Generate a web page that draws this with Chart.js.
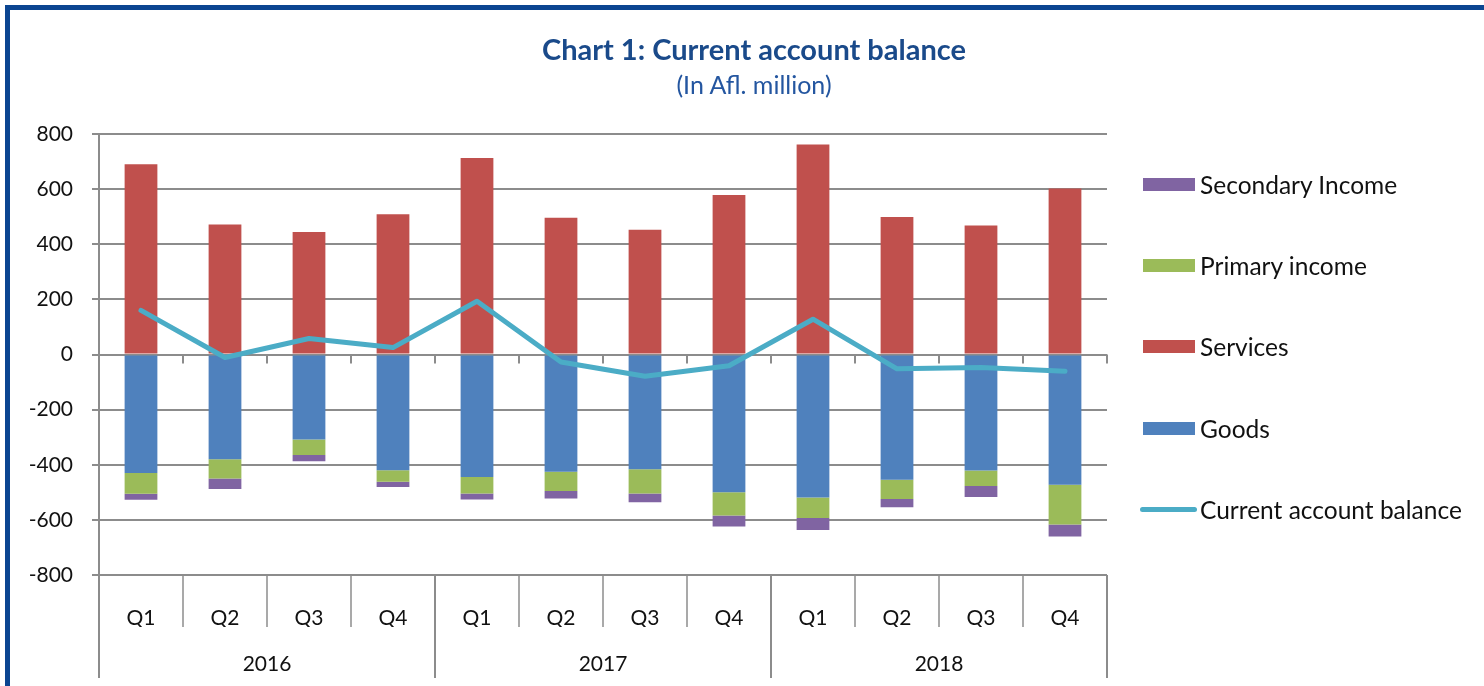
<!DOCTYPE html>
<html>
<head>
<meta charset="utf-8">
<script src="https://cdn.jsdelivr.net/npm/chart.js@4"></script>
<style>
  html, body { margin:0; padding:0; background:#fff; }
  body { width:1484px; height:686px; position:relative; overflow:hidden; font-family: Lato, "Open Sans", sans-serif; }
  #frame { position:absolute; left:5px; top:5px; width:1600px; height:800px; border-top:5px solid #0b4591; border-left:5px solid #0b4591; box-sizing:border-box; }
  #wrap { position:absolute; left:0; top:0; width:1484px; height:686px; }
  .title { position:absolute; left:354px; width:800px; text-align:center; color:#1a4a8a; line-height:1.2; }
  #t1 { top:32px; font-size:29px; font-weight:bold; }
  #t2 { top:69px; font-size:25px; color:#2456a0; }
  .leg { position:absolute; left:1140px; height:30px; display:flex; align-items:center; font-size:24.5px; color:#111; white-space:nowrap; }
  .sw { display:inline-block; width:52px; height:13px; margin-left:3px; margin-right:5px; }
  .ln { display:inline-block; width:57px; height:5px; border-radius:3px; margin-right:3px; }
</style>
</head>
<body>
<div id="frame"></div>
<div id="wrap"><canvas id="c" width="1484" height="686"></canvas></div>
<div class="title" id="t1">Chart 1: Current account balance</div>
<div class="title" id="t2">(In Afl. million)</div>
<div id="legend"></div>
<script>
// ---- data ----
const years = ['2016', '2017', '2018'];
const quarters = ['Q1', 'Q2', 'Q3', 'Q4'];
const goods = [-430, -380, -308, -420, -444, -425, -416, -500, -519, -454, -421, -473];
const services = [690, 472, 444, 509, 713, 496, 453, 579, 762, 499, 468, 602];
const primaryIncome = [-75, -70, -57, -42, -60, -70, -88, -84, -74, -70, -56, -144];
const secondaryIncome = [-22, -38, -22, -19, -22, -27, -32, -40, -44, -30, -40, -43];
const currentAccount = [160, -11, 58, 25, 193, -27, -79, -41, 128, -52, -47, -61];
const yTicks = [-800, -600, -400, -200, 0, 200, 400, 600, 800];

// ---- styles ----
const colors = { goods:'#4F81BD', services:'#C0504D', primary:'#9BBB59', secondary:'#8064A2', line:'#4BACC6' };
const gridColor = '#8c8c8c';
const fontFamily = 'Lato, "Open Sans", sans-serif';

const categoryLabels = [];
years.forEach(() => quarters.forEach(q => categoryLabels.push(q)));

const bar = (label, data, color) => ({
  type:'bar', label, data, backgroundColor:color, borderWidth:0,
  stack:'bars', order:1, barPercentage:0.39, categoryPercentage:1.0, xAxisID:'x', yAxisID:'y'
});

const separators = {
  id:'separators',
  beforeDatasetsDraw(chart) {
    const {ctx} = chart;
    const xs = chart.scales.x, ys = chart.scales.y;
    const n = categoryLabels.length;
    const step = (xs.right - xs.left) / n;
    const zeroY = ys.getPixelForValue(0);
    ctx.save();
    ctx.strokeStyle = gridColor;
    ctx.lineWidth = 2;
    for (let i = 1; i <= n; i++) {
      const bx = Math.round(xs.left + step * i);
      ctx.beginPath(); ctx.moveTo(bx, zeroY); ctx.lineTo(bx, zeroY + 9); ctx.stroke();
    }
    ctx.restore();
  },
  afterDraw(chart) {
    const {ctx, chartArea} = chart;
    const xs = chart.scales.x;
    const n = categoryLabels.length;
    const step = (xs.right - xs.left) / n;
    ctx.save();
    ctx.strokeStyle = gridColor;
    for (let i = 0; i <= n; i++) {
      const bx = Math.round(xs.left + step * i);
      const isYear = (i % quarters.length === 0);
      ctx.lineWidth = isYear ? 2 : 1.5;
      ctx.beginPath();
      ctx.moveTo(bx, chartArea.bottom);
      ctx.lineTo(bx, isYear ? chartArea.bottom + 103 : chartArea.bottom + 52);
      ctx.stroke();
    }
    ctx.restore();
  }
};

function buildLegend() {
  const items = [
    {label:'Secondary Income', color:colors.secondary, y:184},
    {label:'Primary income', color:colors.primary, y:265},
    {label:'Services', color:colors.services, y:346},
    {label:'Goods', color:colors.goods, y:428},
    {label:'Current account balance', color:colors.line, y:509, line:true}
  ];
  const el = document.getElementById('legend');
  items.forEach(it => {
    const d = document.createElement('div');
    d.className = 'leg';
    d.style.top = (it.y - 15) + 'px';
    const s = document.createElement('span');
    s.className = it.line ? 'ln' : 'sw';
    s.style.background = it.color;
    d.appendChild(s);
    d.appendChild(document.createTextNode(it.label));
    el.appendChild(d);
  });
}
buildLegend();

new Chart(document.getElementById('c'), {
  data: {
    labels: categoryLabels,
    datasets: [
      bar('Goods', goods, colors.goods),
      bar('Services', services, colors.services),
      bar('Primary income', primaryIncome, colors.primary),
      bar('Secondary Income', secondaryIncome, colors.secondary),
      { type:'line', label:'Current account balance', data:currentAccount, borderColor:colors.line,
        backgroundColor:colors.line, borderWidth:5, pointRadius:0, pointHoverRadius:0, tension:0,
        borderCapStyle:'round', borderJoinStyle:'round', stack:'line', order:0, fill:false, xAxisID:'x', yAxisID:'y' }
    ]
  },
  options: {
    responsive:false,
    animation:false,
    events:[],
    layout:{ padding:{ left:0, right:377, top:134, bottom:0 } },
    plugins:{ legend:{display:false}, tooltip:{enabled:false}, title:{display:false} },
    scales:{
      x:{
        type:'category', stacked:true, offset:true, position:'bottom',
        grid:{display:false}, border:{display:false},
        ticks:{ font:{family:fontFamily, size:21}, color:'#111', padding:23, autoSkip:false, maxRotation:0 },
        afterFit(scale){ scale.height = 52; }
      },
      x2:{
        type:'category', labels:years, offset:true, position:'bottom',
        grid:{display:false}, border:{display:false},
        ticks:{ font:{family:fontFamily, size:21}, color:'#111', padding:17, autoSkip:false, maxRotation:0 },
        afterFit(scale){ scale.height = 59; }
      },
      y:{
        stacked:true, min:-800, max:800,
        afterBuildTicks(scale){ scale.ticks = yTicks.map(v => ({value:v})); },
        grid:{ color:gridColor, lineWidth:2, tickLength:7, drawTicks:true },
        border:{ display:true, color:gridColor, width:2 },
        ticks:{ font:{family:fontFamily, size:21}, color:'#111', padding:19 },
        afterFit(scale){ scale.width = 99; }
      }
    }
  },
  plugins:[separators]
});
</script>
</body>
</html>
